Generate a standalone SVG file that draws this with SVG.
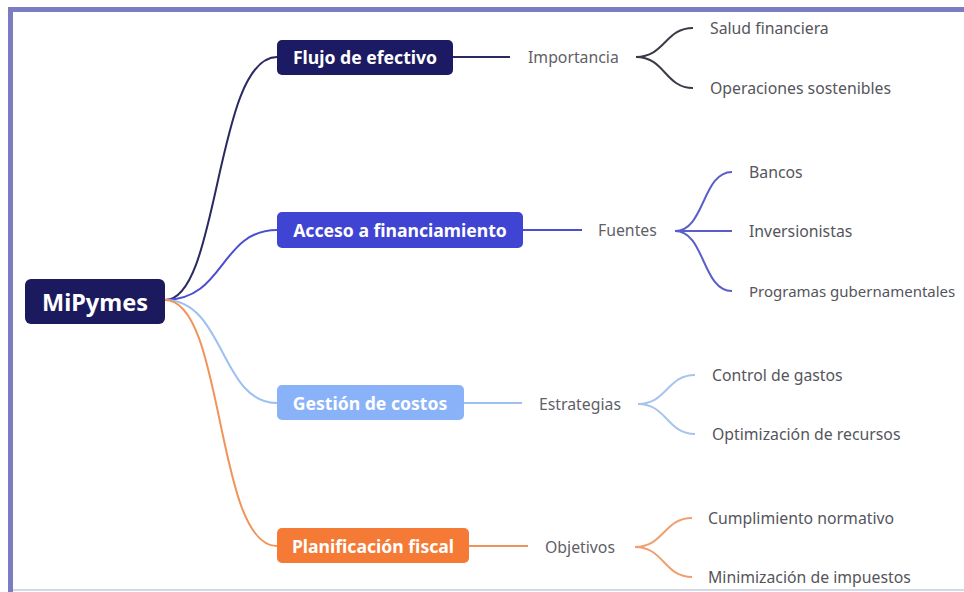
<svg xmlns="http://www.w3.org/2000/svg" width="964" height="592" viewBox="0 0 964 592">
<style>
.box-t{font-family:"Noto Sans","Open Sans",sans-serif;font-weight:700;fill:#ffffff;dominant-baseline:central}
.sub{font-family:"Noto Sans","Open Sans",sans-serif;font-size:15.8px;fill:#5f5f66;dominant-baseline:central}
.leaf{font-family:"Noto Sans","Open Sans",sans-serif;font-size:15.8px;fill:#55555c;dominant-baseline:central}
.ln{fill:none;stroke-width:2}
</style>
<rect x="0" y="0" width="964" height="592" fill="#ffffff"/>
<rect x="8" y="7" width="956" height="5" fill="#7c7cc2"/>
<rect x="8" y="7" width="5" height="585" fill="#7c7cc2"/>
<rect x="13" y="589" width="951" height="2" fill="#d3d9e6"/>
<g id="connectors">
<path class="ln" stroke="#2a2960" d="M165,300 C220,300 215,57 277,57"/>
<path class="ln" stroke="#4a4ed0" d="M165,300 C225,300 220,230 277,230"/>
<path class="ln" stroke="#9ec0f2" d="M165,300 C225,300 220,403 277,403"/>
<path class="ln" stroke="#f0945a" d="M165,300 C225,300 215,546 277,546"/>
<path class="ln" stroke="#2a2960" d="M453,57 H510"/>
<path class="ln" stroke="#4a4ed0" d="M523,230 H582"/>
<path class="ln" stroke="#9ec0f2" d="M464,403 H522"/>
<path class="ln" stroke="#f0945a" d="M469,546 H528"/>
<path class="ln" stroke="#3a3a48" d="M636,57 C665,57 665,28 693,28 M636,57 C665,57 665,88 693,88"/>
<path class="ln" stroke="#5a5ec8" d="M675,231 C705,231 702,172 732,172 M675,231 H732 M675,231 C705,231 702,291 732,291"/>
<path class="ln" stroke="#a8c4ec" d="M638,404 C667,404 667,375 695,375 M638,404 C667,404 667,434 695,434"/>
<path class="ln" stroke="#f0a070" d="M635,547 C664,547 664,518 692,518 M635,547 C664,547 664,577 692,577"/>
</g>
<g id="root">
<rect x="25" y="279" width="140" height="45" rx="6" fill="#1b1a5e"/>
<text class="box-t" x="95" y="302" font-size="23.5" text-anchor="middle">MiPymes</text>
</g>
<g id="flujo">
<rect x="277" y="40" width="176" height="35" rx="5" fill="#1c1a62"/>
<text class="box-t" x="365" y="57" font-size="17.6" text-anchor="middle">Flujo de efectivo</text>
</g>
<g id="acceso">
<rect x="277" y="212" width="246" height="36" rx="5" fill="#3f44d2"/>
<text class="box-t" x="400" y="230" font-size="17.6" text-anchor="middle">Acceso a financiamiento</text>
</g>
<g id="gestion">
<rect x="277" y="385" width="187" height="35" rx="5" fill="#8ab2f8"/>
<text class="box-t" x="370" y="403" font-size="17.6" text-anchor="middle">Gestión de costos</text>
</g>
<g id="planificacion">
<rect x="277" y="528" width="192" height="35" rx="5" fill="#f47a36"/>
<text class="box-t" x="373" y="546" font-size="17.6" text-anchor="middle">Planificación fiscal</text>
</g>
<g id="importancia"><text class="sub" x="528" y="57">Importancia</text></g>
<g id="fuentes"><text class="sub" x="598" y="230">Fuentes</text></g>
<g id="estrategias"><text class="sub" x="539" y="404">Estrategias</text></g>
<g id="objetivos"><text class="sub" x="545" y="547">Objetivos</text></g>
<g id="salud"><text class="leaf" x="710" y="28">Salud financiera</text></g>
<g id="operaciones"><text class="leaf" x="710" y="88">Operaciones sostenibles</text></g>
<g id="bancos"><text class="leaf" x="749" y="172">Bancos</text></g>
<g id="inversionistas"><text class="leaf" x="749" y="231">Inversionistas</text></g>
<g id="programas"><text class="leaf" x="749" y="291" style="font-size:15px">Programas gubernamentales</text></g>
<g id="control"><text class="leaf" x="712" y="375">Control de gastos</text></g>
<g id="optimizacion"><text class="leaf" x="712" y="434">Optimización de recursos</text></g>
<g id="cumplimiento"><text class="leaf" x="708" y="518">Cumplimiento normativo</text></g>
<g id="minimizacion"><text class="leaf" x="708" y="577">Minimización de impuestos</text></g>
</svg>
